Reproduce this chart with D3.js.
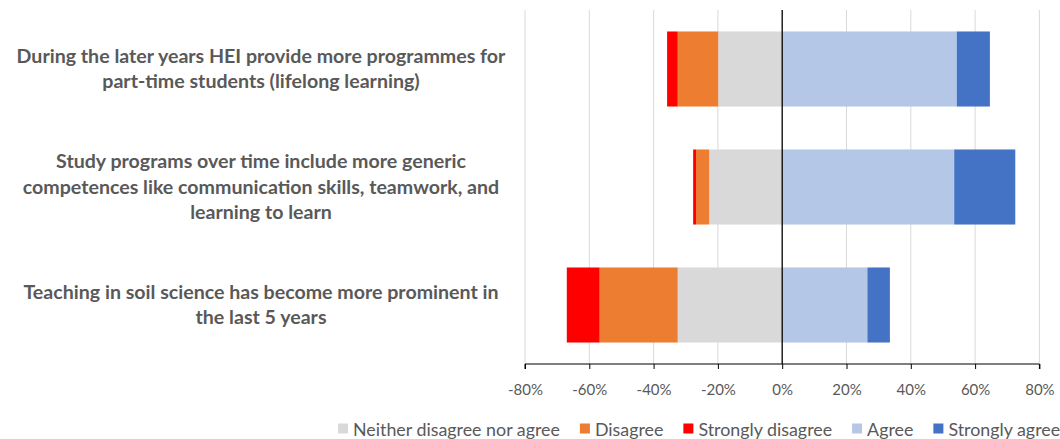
<!DOCTYPE html>
<html>
<head>
<meta charset="utf-8">
<script src="https://cdn.jsdelivr.net/npm/d3@7"></script>
<style>
  html, body { margin: 0; padding: 0; background: #fff; }
  svg { display: block; }
</style>
</head>
<body>
<svg id="chart" width="1060" height="439"></svg>
<script>
// ---- data ----
const categories = [
  ["During the later years HEI provide more programmes for", "part-time students (lifelong learning)"],
  ["Study programs over time include more generic", "competences like communication skills, teamwork, and", "learning to learn"],
  ["Teaching in soil science has become more prominent in", "the last 5 years"]
];
const neither          = [19.9, 22.7, 32.5];
const disagree         = [12.6, 4.1, 24.3];
const stronglyDisagree = [3.3, 0.9, 10.2];
const agree            = [54.3, 53.5, 26.5];
const stronglyAgree    = [10.3, 19.0, 7.0];
const tickValues = [-80, -60, -40, -20, 0, 20, 40, 60, 80];
const legendLabels = ["Neither disagree nor agree", "Disagree", "Strongly disagree", "Agree", "Strongly agree"];

// ---- layout ----
const colors = {
  "Neither disagree nor agree": "#d9d9d9",
  "Disagree": "#ed7d31",
  "Strongly disagree": "#ff0000",
  "Agree": "#b4c7e7",
  "Strongly agree": "#4472c4"
};
const FONT = "Lato, 'Noto Sans', sans-serif";
const textColor = "#595959";
const svg = d3.select("#chart");

// fit font size so a reference string has a target width
function fitSize(str, targetW, weight) {
  const t = svg.append("text").attr("font-family", FONT).attr("font-size", 100)
    .attr("font-weight", weight).text(str);
  const w = t.node().getComputedTextLength();
  t.remove();
  return 100 * targetW / w;
}
const catSize = fitSize(categories[0][0], 489, "bold");
const tickSize = fitSize("-80%", 35, "normal");
const legSize = fitSize("Neither disagree nor agree", 207, "normal");

const x = d3.scaleLinear().domain([-80, 80]).range([525, 1039.4]);
const y = d3.scaleBand().domain(d3.range(categories.length)).range([10, 364])
  .paddingInner(0.364).paddingOuter(0.182);

// gridlines
svg.append("g").selectAll("line").data(tickValues.filter(v => v !== 0)).join("line")
  .attr("x1", d => x(d)).attr("x2", d => x(d))
  .attr("y1", 10).attr("y2", 364)
  .attr("stroke", "#d9d9d9").attr("stroke-width", 1);

// build segments
const segs = [];
categories.forEach((c, i) => {
  let neg = 0;
  [["Neither disagree nor agree", neither[i]], ["Disagree", disagree[i]], ["Strongly disagree", stronglyDisagree[i]]]
    .forEach(([k, v]) => { segs.push({ i, k, x0: -(neg + v), x1: -neg }); neg += v; });
  let pos = 0;
  [["Agree", agree[i]], ["Strongly agree", stronglyAgree[i]]]
    .forEach(([k, v]) => { segs.push({ i, k, x0: pos, x1: pos + v }); pos += v; });
});
svg.append("g").selectAll("rect").data(segs).join("rect")
  .attr("x", d => x(d.x0)).attr("width", d => x(d.x1) - x(d.x0))
  .attr("y", d => y(d.i)).attr("height", y.bandwidth())
  .attr("fill", d => colors[d.k]);

// zero line
svg.append("line").attr("x1", x(0)).attr("x2", x(0)).attr("y1", 10).attr("y2", 364)
  .attr("stroke", "#000").attr("stroke-width", 1.3);

// x axis
const axis = d3.axisBottom(x).tickValues(tickValues).tickSize(5).tickFormat(d => d + "%");
const gx = svg.append("g").attr("transform", "translate(0,364)").call(axis);
gx.select(".domain").attr("stroke", "#000").attr("d", `M${x(-80)},5V0H${x(80)}V5`);
gx.selectAll(".tick line").attr("stroke", "#000");
gx.selectAll(".tick text").attr("font-family", FONT).attr("font-size", tickSize)
  .attr("fill", textColor).attr("y", 0).attr("dy", 0)
  .attr("transform", "translate(0,31)");

// category labels
const lineH = 25.8;
categories.forEach((lines, i) => {
  const cy = y(i) + y.bandwidth() / 2 - 1;
  const t = svg.append("text").attr("font-family", FONT).attr("font-size", catSize)
    .attr("font-weight", "bold").attr("fill", textColor).attr("text-anchor", "middle");
  lines.forEach((ln, j) => {
    t.append("tspan").attr("x", 261)
      .attr("y", cy + (j - (lines.length - 1) / 2) * lineH)
      .attr("dominant-baseline", "central").text(ln);
  });
});

// legend
const lg = svg.append("g");
let lx = 338;
legendLabels.forEach(k => {
  lg.append("rect").attr("x", lx).attr("y", 423.5).attr("width", 10).attr("height", 10).attr("fill", colors[k]);
  const t = lg.append("text").attr("x", lx + 15).attr("y", 429).attr("dominant-baseline", "central")
    .attr("font-family", FONT).attr("font-size", legSize).attr("fill", textColor).text(k);
  lx += 15 + t.node().getComputedTextLength() + 20;
});
</script>
</body>
</html>
